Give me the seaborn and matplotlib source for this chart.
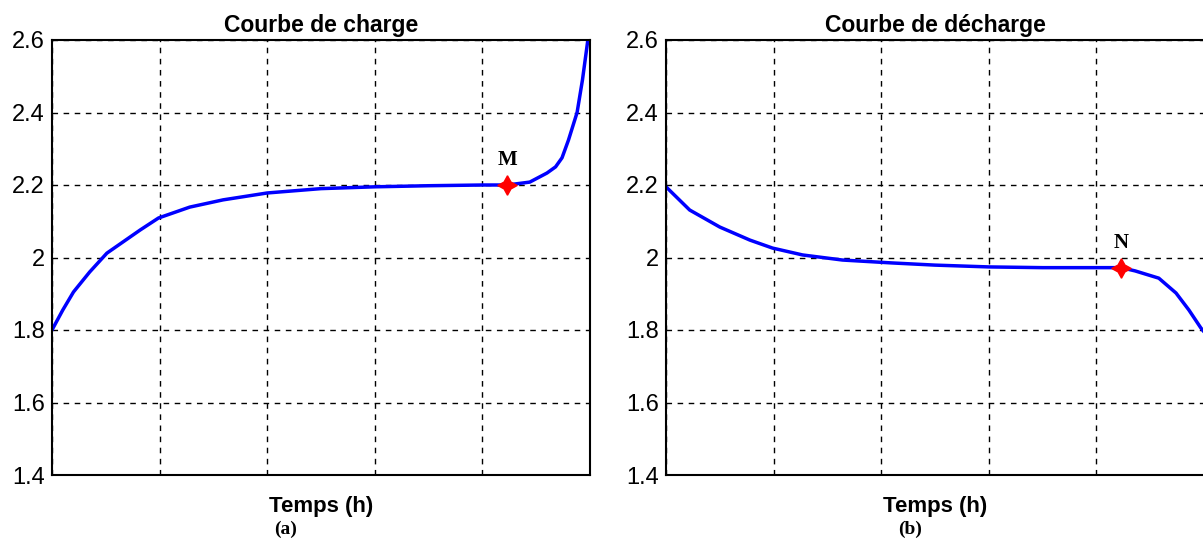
import matplotlib
matplotlib.use("Agg")
import matplotlib.pyplot as plt
import seaborn as sns
import pandas as pd

# Charge curve (a)
charge_t = [0.0, 0.1, 0.2, 0.35, 0.51, 0.82, 0.99, 1.28, 1.59, 2.0, 2.5, 3.0, 3.5, 4.0, 4.23, 4.44, 4.6, 4.68, 4.74, 4.8, 4.88, 4.93, 4.98]
charge_v = [1.8, 1.855, 1.905, 1.96, 2.012, 2.076, 2.109, 2.139, 2.159, 2.178, 2.19, 2.195, 2.198, 2.2, 2.2, 2.208, 2.233, 2.25, 2.275, 2.324, 2.40, 2.49, 2.6]
# Discharge curve (b)
dis_t = [0.0, 0.22, 0.5, 0.78, 0.99, 1.27, 1.64, 2.1, 2.5, 3.0, 3.5, 4.0, 4.23, 4.36, 4.58, 4.74, 4.86, 4.97, 5.0]
dis_v = [2.195, 2.131, 2.084, 2.048, 2.026, 2.007, 1.993, 1.985, 1.979, 1.974, 1.972, 1.972, 1.972, 1.963, 1.943, 1.902, 1.855, 1.806, 1.795]

point_m = (4.23, 2.2)
point_n = (4.23, 1.972)
titles = ["Courbe de charge", "Courbe de décharge"]
xlabel = "Temps (h)"
sublabels = ["(a)", "(b)"]
point_labels = ["M", "N"]
yticks = [1.4, 1.6, 1.8, 2.0, 2.2, 2.4, 2.6]
yticklabels = ["1.4", "1.6", "1.8", "2", "2.2", "2.4", "2.6"]

sns.set_style("white")
plt.rcParams['font.family'] = ['Liberation Sans', 'DejaVu Sans']
plt.rcParams['text.color'] = 'black'
plt.rcParams['axes.labelcolor'] = 'black'
plt.rcParams['ytick.color'] = 'black'

fig = plt.figure(figsize=(12.03, 5.51), dpi=100)
W, H = 1203, 551
ax1 = fig.add_axes([52 / W, 76 / H, 538 / W, 435 / H])
ax2 = fig.add_axes([666 / W, 76 / H, 538 / W, 435 / H])

datasets = [
    (ax1, pd.DataFrame({"t": charge_t, "v": charge_v}), point_m, 0.435),
    (ax2, pd.DataFrame({"t": dis_t, "v": dis_v}), point_n, 0.4535),
]

for i, (ax, df, pt, subx) in enumerate(datasets):
    sns.lineplot(data=df, x="t", y="v", ax=ax, color="#0000ff", linewidth=2.5)
    ax.plot([pt[0]], [pt[1]], marker=(4, 1, 0), color="red", markersize=14, linestyle="none", zorder=5)
    ax.text(pt[0], pt[1] + 0.04, point_labels[i], ha="center", va="bottom",
            fontsize=15, fontweight="bold", family="Liberation Serif")
    ax.set_xlim(0, 5)
    ax.set_ylim(1.4, 2.6)
    ax.set_xticks([0, 1, 2, 3, 4, 5])
    ax.set_xticklabels([])
    ax.set_yticks(yticks)
    ax.set_yticklabels(yticklabels, fontsize=17)
    ax.tick_params(axis="both", length=0, pad=5)
    ax.grid(True, color="black", linestyle=(0, (4, 4)), linewidth=1.0)
    for s in ax.spines.values():
        s.set_color("black")
        s.set_linewidth(1.5)
    ax.set_title(titles[i], fontsize=16.5, fontweight="bold", pad=6)
    ax.set_xlabel(xlabel, fontsize=16, fontweight="bold", labelpad=10)
    ax.set_ylabel("")
    ax.text(subx, -0.126, sublabels[i], transform=ax.transAxes, ha="center", va="center",
            fontsize=14, fontweight="bold", family="Liberation Serif")

fig.savefig("out.png", dpi=100)
